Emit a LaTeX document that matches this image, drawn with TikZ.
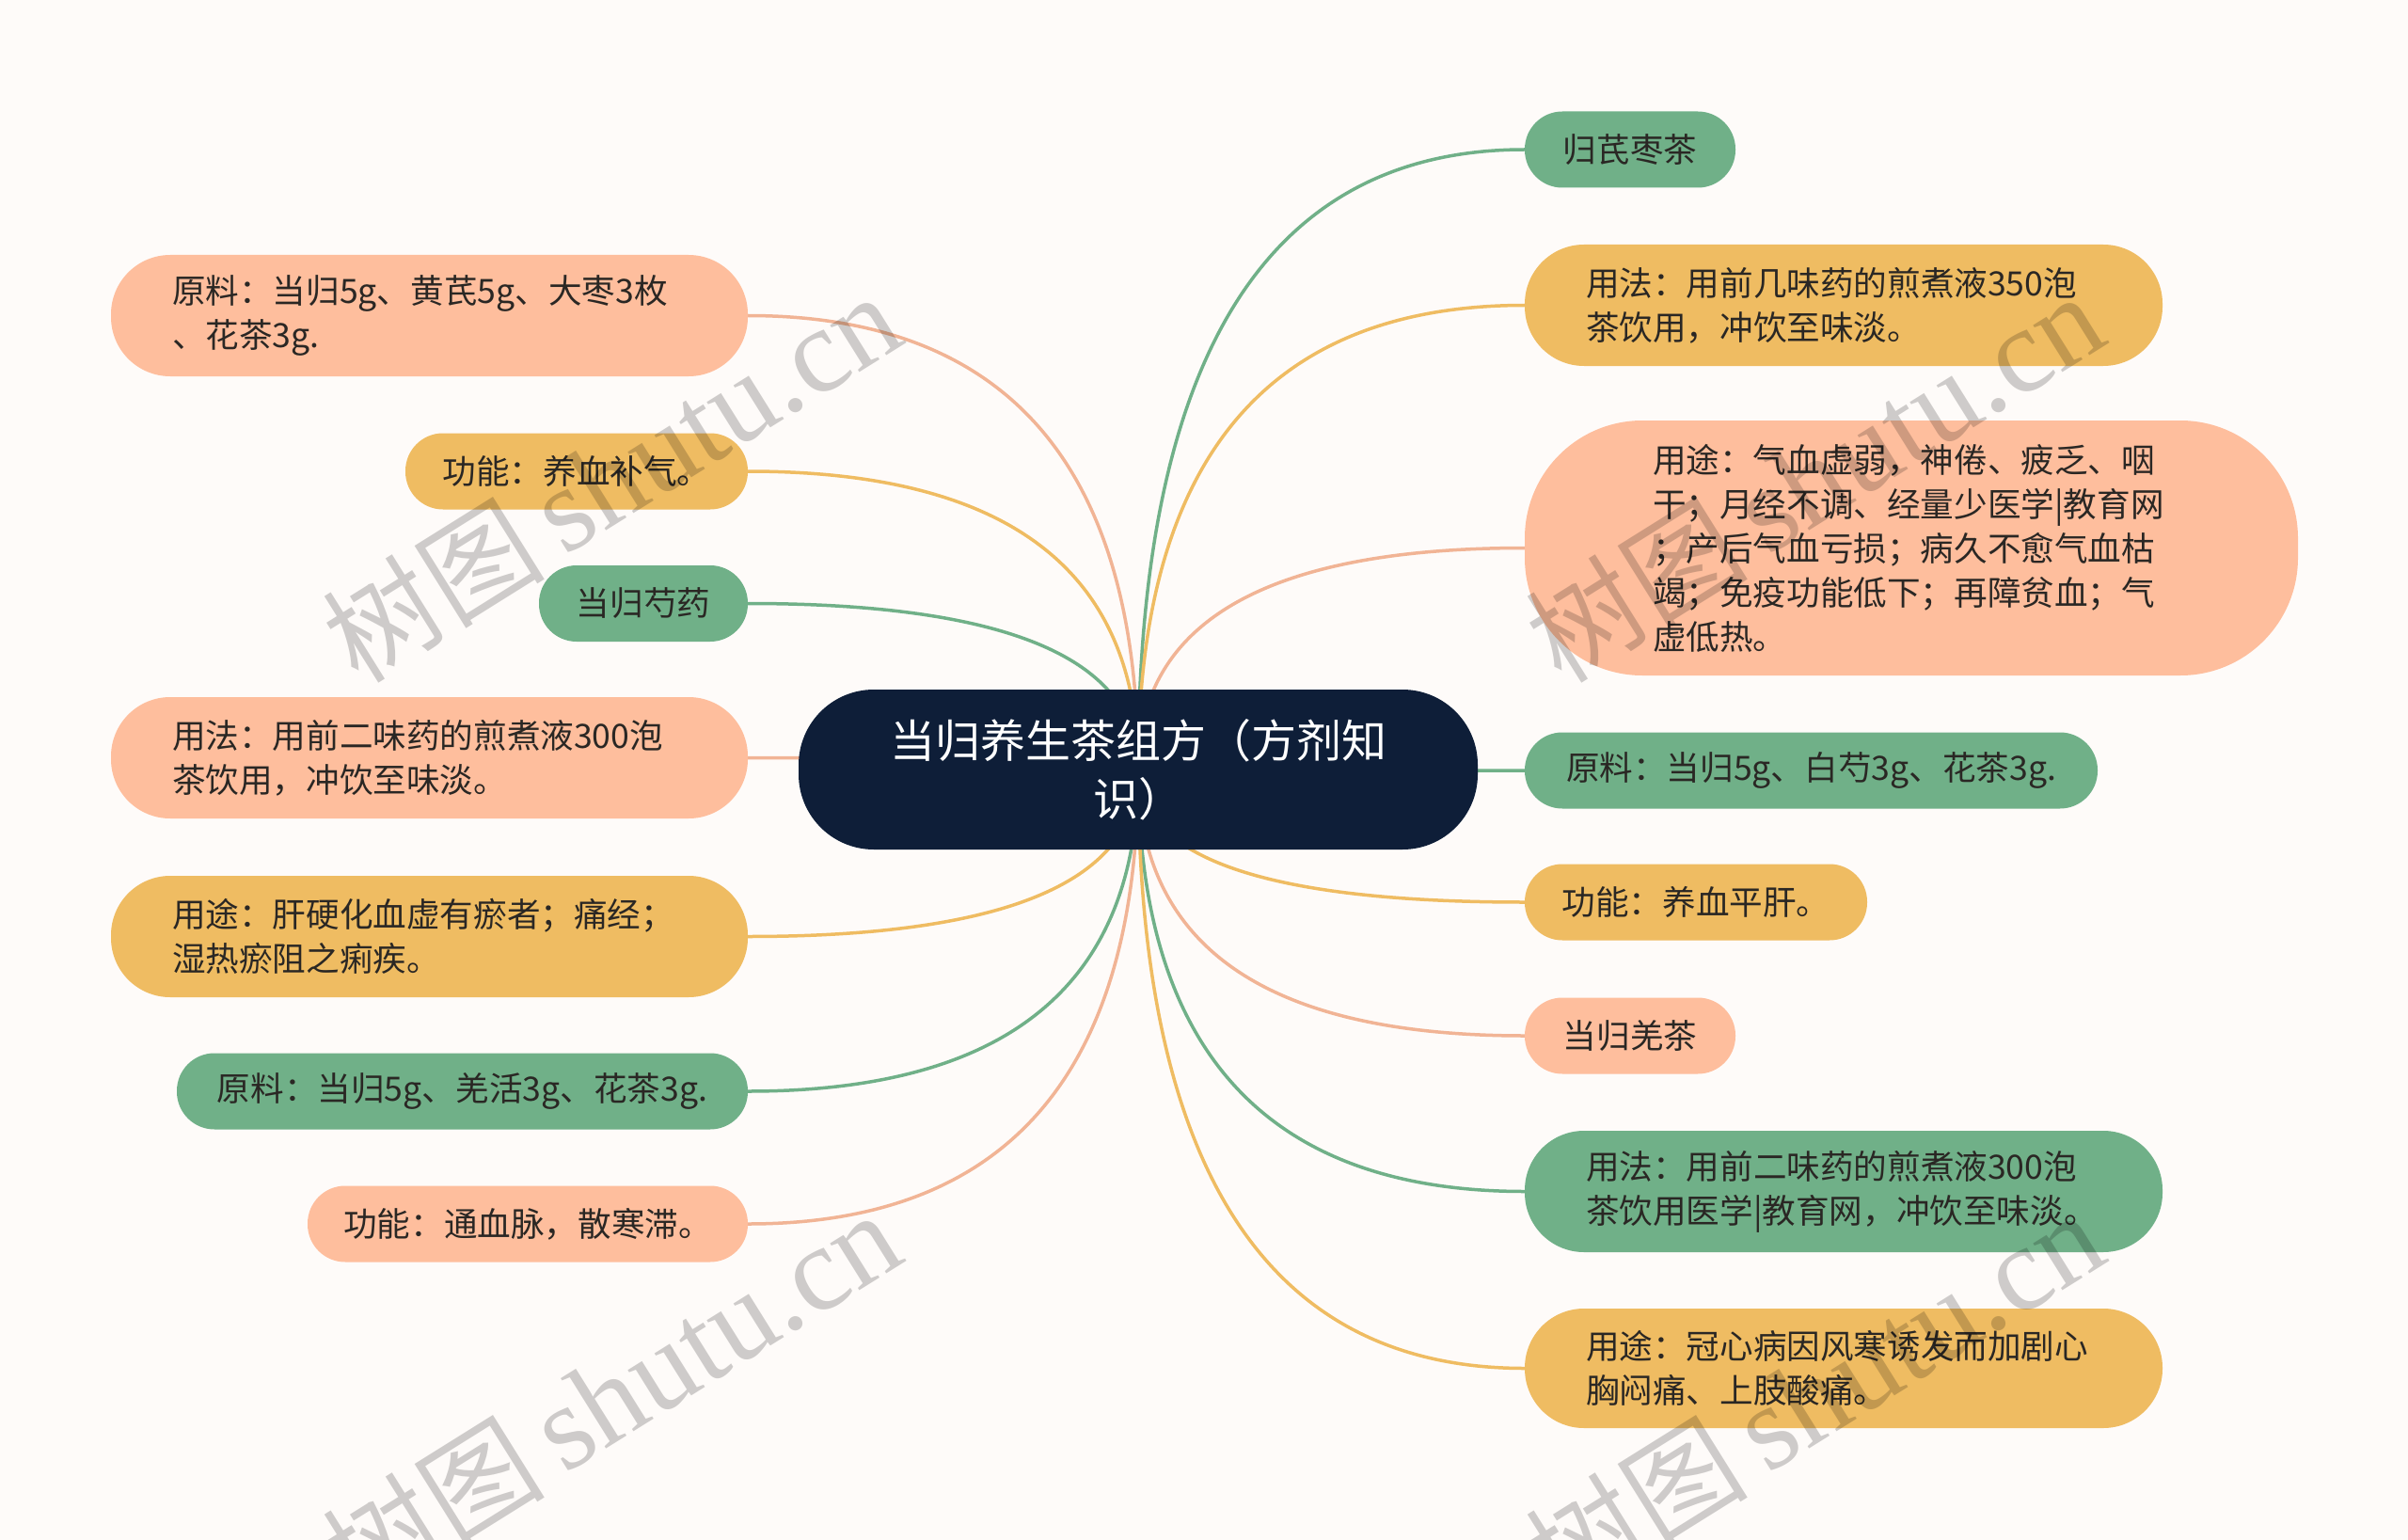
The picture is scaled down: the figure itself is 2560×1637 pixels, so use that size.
\documentclass[tikz,border=0pt]{standalone}
\usepackage{fontspec}
\setmainfont{Noto Sans CJK SC}
\newfontfamily\wmlatin{Liberation Serif}
\usetikzlibrary{calc}
\pgfdeclarelayer{bg}
\pgfsetlayers{bg,main}
\definecolor{bgc}{HTML}{FEFBF9}
\definecolor{cgreen}{HTML}{70B088}
\definecolor{cyellow}{HTML}{EFBC62}
\definecolor{cpeach}{HTML}{FEBE9D}
\definecolor{cnavy}{HTML}{0E1E38}
\definecolor{ctext}{HTML}{2A2724}
\newcommand\mmlink[2]{\draw[#1] (c.center) .. controls ($(c.center)!0.6667!(c.center |- #2)$) and ($(#2)!0.6667!(c.center |- #2)$) .. (#2);}
\newcommand\wmtext{{\fontsize{118}{118}\selectfont 树图}\hspace{22pt}{\wmlatin\fontsize{128}{128}\selectfont shutu.cn}}
\begin{document}
\begin{tikzpicture}[x=1pt,y=-1pt,
  mmbox/.style={draw=none, inner ysep=0pt, text=ctext, font=\fontsize{35.6}{47}\selectfont},
  snode/.style={mmbox, align=center, inner xsep=0pt, minimum height=81pt, rounded corners=40pt},
  mnode/.style={mmbox, align=left, inner xsep=65pt, text width=#1, minimum height=129pt, rounded corners=63pt},
  ngreen/.style={fill=cgreen},
  nyellow/.style={fill=cyellow},
  npeach/.style={fill=cpeach},
  lgreen/.style={draw=cgreen, line width=3.5pt},
  lyellow/.style={draw=cyellow, line width=3.5pt},
  lpeach/.style={draw=cpeach!95!black, line width=3.5pt},
  wm/.style={rotate=32, opacity=0.19, text=black, inner sep=0pt}
]
\useasboundingbox (0,0) rectangle (2560,1637);
\begin{pgfonlayer}{bg}
\fill[bgc] (0,0) rectangle (2560,1637);
\end{pgfonlayer}

% central topic
\node[fill=cnavy, text=white, font=\fontsize{48}{62}\selectfont, minimum width=722pt, minimum height=170pt, rounded corners=80pt, align=center, inner sep=0pt] (c) at (1210,818) {当归养生茶组方（方剂知\\识）};

% left branches
\node[mnode=547pt, npeach] (L1) at (456.5,335.5) {原料：当归5g、黄芪5g、大枣3枚\\、花茶3g.};
\node[snode, nyellow, minimum width=364pt] (L2) at (613,501) {功能：养血补气。};
\node[snode, ngreen, minimum width=222pt] (L3) at (684,641.5) {当归芍药};
\node[mnode=547pt, npeach] (L4) at (456.5,805.5) {用法：用前二味药的煎煮液300泡\\茶饮用，冲饮至味淡。};
\node[mnode=547pt, nyellow] (L5) at (456.5,995.5) {用途：肝硬化血虚有瘀者；痛经；\\湿热瘀阻之痢疾。};
\node[snode, ngreen, minimum width=607pt] (L6) at (491.5,1160) {原料：当归5g、羌活3g、花茶3g.};
\node[snode, npeach, minimum width=468pt] (L7) at (561,1301) {功能：通血脉，散寒滞。};

% right branches
\node[snode, ngreen, minimum width=224pt] (R1) at (1733,159) {归芪枣茶};
\node[mnode=548pt, nyellow] (R2) at (1960,324.5) {用法：用前几味药的煎煮液350泡\\茶饮用，冲饮至味淡。};
\node[mmbox, npeach, align=left, inner xsep=136pt, text width=550pt, minimum height=271pt, rounded corners=125pt] (R3) at (2032,582.5) {用途：气血虚弱，神倦、疲乏、咽\\干；月经不调、经量少医学|教育网\\；产后气血亏损；病久不愈气血枯\\竭；免疫功能低下；再障贫血；气\\虚低热。};
\node[snode, ngreen, minimum width=609pt] (R4) at (1925.5,819) {原料：当归5g、白芍3g、花茶3g.};
\node[snode, nyellow, minimum width=364pt] (R5) at (1803,959) {功能：养血平肝。};
\node[snode, npeach, minimum width=224pt] (R6) at (1733,1101) {当归羌茶};
\node[mnode=548pt, ngreen] (R7) at (1960,1266.5) {用法：用前二味药的煎煮液300泡\\茶饮用医学|教育网，冲饮至味淡。};
\node[mnode=548pt, nyellow, minimum height=127pt] (R8) at (1960,1454.5) {用途：冠心病因风寒诱发而加剧心\\胸闷痛、上肢酸痛。};

% connectors
\begin{pgfonlayer}{bg}
\mmlink{lpeach}{L1.east}
\mmlink{lyellow}{L2.east}
\mmlink{lgreen}{L3.east}
\mmlink{lpeach}{L4.east}
\mmlink{lyellow}{L5.east}
\mmlink{lgreen}{L6.east}
\mmlink{lpeach}{L7.east}
\mmlink{lgreen}{R1.west}
\mmlink{lyellow}{R2.west}
\mmlink{lpeach}{R3.west}
\mmlink{lgreen}{R4.west}
\mmlink{lyellow}{R5.west}
\mmlink{lpeach}{R6.west}
\mmlink{lgreen}{R7.west}
\mmlink{lyellow}{R8.west}
\end{pgfonlayer}

% watermarks
\node[wm] (wm1) at (650,508) {\wmtext};
\node[wm] (wm2) at (1929,508) {\wmtext};
\node[wm] (wm3) at (650,1484) {\wmtext};
\node[wm] (wm4) at (1929,1484) {\wmtext};
\end{tikzpicture}
\end{document}
